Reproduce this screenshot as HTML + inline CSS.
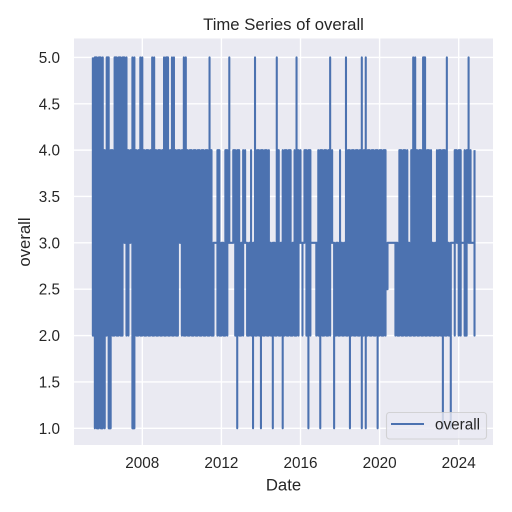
<!DOCTYPE html>
<html>
<head>
<meta charset="utf-8">
<title>Time Series of overall</title>
<style>
html,body{margin:0;padding:0;background:#fff}
svg{display:block}
text{font-family:"Liberation Sans",Arial,sans-serif;fill:#262626}
</style>
</head>
<body>
<svg id="chart" xmlns="http://www.w3.org/2000/svg" width="512" height="512" viewBox="0 0 512 512">
  <rect x="0" y="0" width="512" height="512" fill="#ffffff"/>
  <rect x="74" y="38.5" width="419" height="406.5" fill="#eaeaf2"/>
  <defs><clipPath id="plot-clip"><rect x="74" y="38.5" width="419" height="406.5"/></clipPath></defs>
  <g id="grid"></g>
  <g id="series" clip-path="url(#plot-clip)"></g>
  <g id="x-ticks" font-size="15.3" text-anchor="middle"></g>
  <g id="y-ticks" font-size="15.3" text-anchor="end"></g>
  <text x="283.5" y="30" font-size="16.7" text-anchor="middle">Time Series of overall</text>
  <text x="283.5" y="490.5" font-size="16.7" text-anchor="middle">Date</text>
  <text transform="translate(30,242) rotate(-90)" font-size="16.7" text-anchor="middle">overall</text>
  <g>
    <rect x="386.5" y="412.5" width="100" height="26.5" rx="3" ry="3" fill="#eaeaf2" fill-opacity="0.8" stroke="#cccccc" stroke-opacity="0.8" stroke-width="1.1"/>
    <line x1="391" y1="424" x2="424" y2="424" stroke="#4c72b0" stroke-width="2.08"/>
    <text x="435" y="429.5" font-size="15.3">overall</text>
  </g>
</svg>
<script>
// Observation dates as decimal years
const dates = [
2005.5,2005.6,2005.7,2005.8,2005.9,2006.0,2006.1,2006.2,2006.3,2006.4,
2006.5,2006.6,2006.7,2006.8,2006.9,2007.0,2007.1,2007.2,2007.3,2007.4,
2007.5,2007.6,2007.7,2007.8,2007.9,2008.0,2008.1,2008.2,2008.3,2008.4,
2008.5,2008.6,2008.7,2008.8,2008.9,2009.0,2009.1,2009.2,2009.3,2009.4,
2009.5,2009.6,2009.7,2009.8,2009.9,2010.0,2010.1,2010.2,2010.3,2010.4,
2010.5,2010.6,2010.7,2010.8,2010.9,2011.0,2011.1,2011.2,2011.3,2011.4,
2011.5,2011.6,2011.7,2011.8,2011.9,2012.0,2012.1,2012.2,2012.3,2012.4,
2012.5,2012.6,2012.7,2012.8,2012.9,2013.0,2013.1,2013.2,2013.3,2013.4,
2013.5,2013.6,2013.7,2013.8,2013.9,2014.0,2014.1,2014.2,2014.3,2014.4,
2014.5,2014.6,2014.7,2014.8,2014.9,2015.0,2015.1,2015.2,2015.3,2015.4,
2015.5,2015.6,2015.7,2015.8,2015.9,2016.0,2016.1,2016.2,2016.3,2016.4,
2016.5,2016.6,2016.7,2016.8,2016.9,2017.0,2017.1,2017.2,2017.3,2017.4,
2017.5,2017.6,2017.7,2017.8,2017.9,2018.0,2018.1,2018.2,2018.3,2018.4,
2018.5,2018.6,2018.7,2018.8,2018.9,2019.0,2019.1,2019.2,2019.3,2019.4,
2019.5,2019.6,2019.7,2019.8,2019.9,2020.0,2020.1,2020.2,2020.3,2020.4,
2020.5,2020.6,2020.7,2020.8,2020.9,2021.0,2021.1,2021.2,2021.3,2021.4,
2021.5,2021.6,2021.7,2021.8,2021.9,2022.0,2022.1,2022.2,2022.3,2022.4,
2022.5,2022.6,2022.7,2022.8,2022.9,2023.0,2023.1,2023.2,2023.3,2023.4,
2023.5,2023.6,2023.7,2023.8,2023.9,2024.0,2024.1,2024.2,2024.3,2024.4,
2024.5,2024.6,2024.7,2024.8];
// Highest overall rating in each period
const overallHigh = [
5,5,5,5,5,5,4,5,5,4,
4,5,5,5,5,5,5,5,4,4,
5,5,4,4,5,5,4,4,4,4,
5,5,4,4,4,4,5,5,5,4,
5,5,4,4,4,4,5,5,4,4,
4,4,4,4,4,4,4,4,4,5,
4,3,3,4,4,3,3,4,4,5,
3,4,4,4,4,3,4,4,3,3,
4,3,5,4,4,4,4,4,4,4,
3,3,3,5,4,3,4,4,4,4,
4,3,4,5,4,4,3,4,4,4,
4,3,3,3,4,4,4,4,4,4,
5,4,3,3,3,4,3,3,5,4,
4,4,4,4,4,4,5,4,5,4,
4,4,4,4,4,4,4,4,4,3,
3,3,3,3,3,4,4,4,4,4,
3,4,5,5,4,4,4,5,5,4,
4,4,3,3,4,4,4,4,4,5,
3,3,3,4,4,4,4,3,4,4,
5,4,3,4];
// Lowest overall rating in each period
const overallLow = [
2,1,1,1,1,1,1,2,1,1,
2,2,2,2,2,2,3,2,2,3,
1,1,2,2,2,2,2,2,2,2,
2,2,2,2,2,2,2,2,2,2,
2,2,2,2,3,2,2,2,2,2,
2,2,2,2,2,2,2,2,2,2,
2,2,3,2,2,2,2,2,2,3,
3,3,2,1,2,2,2,3,2,2,
2,1,2,2,2,1,2,2,2,2,
2,1,2,2,2,2,1,2,2,2,
2,2,2,2,2,3,2,3,2,1,
2,3,3,2,2,1,2,2,2,2,
2,3,1,2,2,2,2,2,2,2,
1,2,2,2,2,2,1,2,1,2,
2,2,2,2,1,2,2,2,2,2.5,
3,3,3,2,2,2,2,2,2,2,
2,2,2,2,2,2,2,2,2,2,
2,2,2,2,2,2,2,1,2,2,
2,1,3,2,3,2,2,3,2,2,
3,3,3,2];
const xTickLabels = ["2008","2012","2016","2020","2024"];
const yTickLabels = ["1.0","1.5","2.0","2.5","3.0","3.5","4.0","4.5","5.0"];

const NS = "http://www.w3.org/2000/svg";
function xScale(year){ return 142.3 + (year - 2008) * (458.7 - 142.3) / 16; }
function yScale(v){ return 428.3 - (v - 1) * (428.3 - 57.4) / 4; }

const grid = document.getElementById("grid");
const xTicks = document.getElementById("x-ticks");
const yTicks = document.getElementById("y-ticks");
const series = document.getElementById("series");

xTickLabels.forEach(function(label){
  const px = xScale(Number(label));
  const gl = document.createElementNS(NS, "line");
  gl.setAttribute("x1", px);
  gl.setAttribute("x2", px);
  gl.setAttribute("y1", 38.5);
  gl.setAttribute("y2", 445);
  gl.setAttribute("stroke", "#ffffff");
  gl.setAttribute("stroke-width", "1.39");
  
  
  grid.appendChild(gl);
  const t = document.createElementNS(NS, "text");
  t.setAttribute("x", px);
  t.setAttribute("y", 468);
  t.textContent = label;
  
  
  xTicks.appendChild(t);
});

yTickLabels.forEach(function(label){
  const py = yScale(Number(label));
  const gl = document.createElementNS(NS, "line");
  gl.setAttribute("x1", 74);
  gl.setAttribute("x2", 493);
  gl.setAttribute("y1", py);
  gl.setAttribute("y2", py);
  gl.setAttribute("stroke", "#ffffff");
  gl.setAttribute("stroke-width", "1.39");
  
  
  grid.appendChild(gl);
  const t = document.createElementNS(NS, "text");
  t.setAttribute("x", 60);
  t.setAttribute("y", py + 5.5);
  t.textContent = label;
  
  
  yTicks.appendChild(t);
});

// Each period is a vertical stroke from its high to its low; neighbouring
// periods join at the level they share so peaks stay straight-sided.
let d = "";
dates.forEach(function(date, i){
  const px = xScale(date).toFixed(2);
  const hi = yScale(overallHigh[i]).toFixed(2);
  const lo = yScale(overallLow[i]).toFixed(2);
  d += (i === 0 ? "M" : "L") + px + " " + (i % 2 === 0 ? hi : lo);
  d += "L" + px + " " + (i % 2 === 0 ? lo : hi);
  if (i < dates.length - 1) {
    const joinValue = i % 2 === 0
      ? Math.max(overallLow[i], overallLow[i + 1])
      : Math.min(overallHigh[i], overallHigh[i + 1]);
    const nx = xScale(dates[i + 1]).toFixed(2);
    d += "L" + px + " " + yScale(joinValue).toFixed(2);
    d += "L" + nx + " " + yScale(joinValue).toFixed(2);
  }
});
const line = document.createElementNS(NS, "path");
line.setAttribute("d", d);
line.setAttribute("fill", "none");
line.setAttribute("stroke", "#4c72b0");
line.setAttribute("stroke-width", "2.08");
line.setAttribute("stroke-linejoin", "round");


series.appendChild(line);
</script>
</body>
</html>
